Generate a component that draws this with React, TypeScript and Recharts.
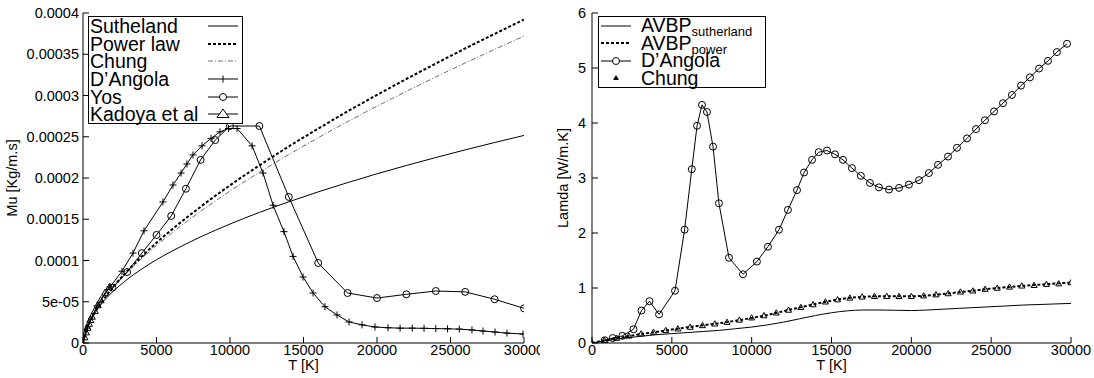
import { LineChart, Line, XAxis, YAxis, Legend } from 'recharts'

const FONT = '"Liberation Sans", Arial, Helvetica, sans-serif'

// ---- left panel: viscosity ----
const muT = [0, 250, 500, 1000, 1500, 2000, 3000, 4000, 5000, 6000, 8000, 10000, 12000, 14000, 16000, 18000, 20000, 22000, 24000, 26000, 28000, 30000]
const sutherlandMu = [0, 1.6e-5, 2.67e-5, 4.15e-5, 5.26e-5, 6.18e-5, 7.7e-5, 8.97e-5, 1.009e-4, 1.109e-4, 1.286e-4, 1.442e-4, 1.583e-4, 1.711e-4, 1.832e-4, 1.944e-4, 2.051e-4, 2.152e-4, 2.248e-4, 2.341e-4, 2.43e-4, 2.516e-4]
const powerLawMu = [0, 1.71e-5, 2.69e-5, 4.24e-5, 5.53e-5, 6.67e-5, 8.7e-5, 1.05e-4, 1.215e-4, 1.368e-4, 1.651e-4, 1.911e-4, 2.153e-4, 2.382e-4, 2.598e-4, 2.807e-4, 3.007e-4, 3.2e-4, 3.387e-4, 3.57e-4, 3.747e-4, 3.92e-4]
const chungMu = [0, 1.74e-5, 2.71e-5, 4.22e-5, 5.47e-5, 6.57e-5, 8.52e-5, 1.025e-4, 1.181e-4, 1.328e-4, 1.596e-4, 1.841e-4, 2.069e-4, 2.284e-4, 2.488e-4, 2.683e-4, 2.87e-4, 3.05e-4, 3.225e-4, 3.395e-4, 3.559e-4, 3.72e-4]

const dAngolaMuT = [0, 300, 950, 1840, 2650, 3400, 4150, 5440, 6120, 6670, 7070, 7480, 8100, 8710, 9320, 9900, 10480, 11500, 12250, 12930, 13670, 14290, 14970, 15650, 16460, 17280, 18100, 18980, 19860, 20750, 21570, 22400, 23200, 24000, 24800, 25600, 26460, 27210, 28030, 28840, 29930]
const dAngolaMu = [0, 1.8e-5, 4.5e-5, 6.8e-5, 8.7e-5, 1.09e-4, 1.36e-4, 1.71e-4, 1.915e-4, 2.06e-4, 2.17e-4, 2.28e-4, 2.39e-4, 2.48e-4, 2.56e-4, 2.6e-4, 2.6e-4, 2.39e-4, 2.06e-4, 1.67e-4, 1.35e-4, 1.05e-4, 8.0e-5, 6.06e-5, 4.4e-5, 3.4e-5, 2.55e-5, 2.2e-5, 1.94e-5, 1.85e-5, 1.8e-5, 1.8e-5, 1.78e-5, 1.75e-5, 1.72e-5, 1.68e-5, 1.58e-5, 1.45e-5, 1.33e-5, 1.2e-5, 1.09e-5]

const yosT = [2000, 3000, 4000, 5000, 6000, 7000, 8000, 9000, 10000, 12000, 14000, 16000, 18000, 20000, 22000, 24000, 26000, 28000, 30000]
const yosMu = [6.7e-5, 8.6e-5, 1.09e-4, 1.31e-4, 1.54e-4, 1.87e-4, 2.22e-4, 2.46e-4, 2.63e-4, 2.63e-4, 1.77e-4, 9.7e-5, 6.06e-5, 5.45e-5, 5.9e-5, 6.3e-5, 6.2e-5, 5.3e-5, 4.2e-5]

const kadoyaT = [100, 200, 300, 400, 500, 600, 800, 1000, 1200, 1500, 1800]
const kadoyaMu = [7e-6, 1.3e-5, 1.85e-5, 2.35e-5, 2.8e-5, 3.2e-5, 3.9e-5, 4.6e-5, 5.2e-5, 6.1e-5, 6.8e-5]

const tTicks = [0, 5000, 10000, 15000, 20000, 25000, 30000]
const muTicks = [0, 5e-5, 1e-4, 1.5e-4, 2e-4, 2.5e-4, 3e-4, 3.5e-4, 4e-4]
const muTickLabels = ['0', '5e-05', '0.0001', '0.00015', '0.0002', '0.00025', '0.0003', '0.00035', '0.0004']

// ---- right panel: conductivity ----
const avbpT = [0, 1000, 2000, 3000, 4000, 5000, 6000, 7000, 8000, 9000, 10000, 11000, 12000, 13000, 14000, 15000, 16000, 17000, 18000, 19000, 20000, 21000, 22000, 23000, 24000, 25000, 26000, 27000, 28000, 29000, 30000]
const avbpSutherland = [0, 0.05, 0.09, 0.12, 0.15, 0.17, 0.19, 0.21, 0.23, 0.26, 0.29, 0.33, 0.38, 0.44, 0.5, 0.55, 0.585, 0.6, 0.6, 0.595, 0.59, 0.6, 0.615, 0.63, 0.645, 0.66, 0.675, 0.69, 0.7, 0.71, 0.72]
const avbpPower = [0, 0.06, 0.11, 0.16, 0.2, 0.245, 0.285, 0.325, 0.36, 0.405, 0.455, 0.51, 0.58, 0.645, 0.71, 0.77, 0.815, 0.84, 0.85, 0.85, 0.85, 0.865, 0.89, 0.925, 0.955, 0.99, 1.015, 1.04, 1.06, 1.08, 1.1]

const dAngolaLamT = [800, 1300, 1900, 2600, 3100, 3600, 4200, 5200, 5800, 6250, 6580, 6890, 7200, 7580, 7950, 8580, 9460, 10330, 11020, 11710, 12270, 12840, 13280, 13780, 14200, 14720, 15220, 15720, 16280, 16840, 17410, 17970, 18600, 19230, 19850, 20480, 21100, 21670, 22300, 22860, 23490, 24050, 24610, 25180, 25740, 26300, 26870, 27430, 28000, 28560, 29120, 29750]
const dAngolaLam = [0.05, 0.09, 0.13, 0.25, 0.59, 0.76, 0.52, 0.95, 2.06, 3.16, 3.95, 4.33, 4.2, 3.57, 2.54, 1.55, 1.25, 1.48, 1.75, 2.06, 2.42, 2.78, 3.1, 3.33, 3.47, 3.5, 3.43, 3.33, 3.18, 3.04, 2.91, 2.83, 2.79, 2.82, 2.88, 2.96, 3.09, 3.24, 3.39, 3.55, 3.72, 3.89, 4.05, 4.21, 4.36, 4.51, 4.68, 4.83, 4.99, 5.13, 5.29, 5.44]

const chungLamT = [0, 770, 1540, 2310, 3080, 3850, 4620, 5380, 6150, 6920, 7690, 8460, 9230, 10000, 10770, 11540, 12310, 13080, 13850, 14620, 15380, 16150, 16920, 17690, 18460, 19230, 20000, 20770, 21540, 22310, 23080, 23850, 24620, 25380, 26150, 26920, 27690, 28460, 29230, 30000]
const chungLam = [0, 0.05, 0.09, 0.13, 0.17, 0.2, 0.23, 0.26, 0.29, 0.32, 0.35, 0.38, 0.42, 0.46, 0.5, 0.55, 0.6, 0.65, 0.7, 0.75, 0.79, 0.82, 0.84, 0.85, 0.85, 0.85, 0.85, 0.86, 0.88, 0.9, 0.93, 0.95, 0.98, 1.0, 1.02, 1.04, 1.05, 1.07, 1.08, 1.1]

const lamTicks = [0, 1, 2, 3, 4, 5, 6]

type Pt = { x: number; y: number }
const zip = (xs: number[], ys: number[]): Pt[] => xs.map((x, i) => ({ x, y: ys[i] }))

const tickStyle = { fill: '#000', fontSize: 14.5, fontFamily: FONT }
const noLabel = () => <g />

function plusDot(props: any) {
  const { cx, cy, index } = props
  if (cx == null || cy == null) return <g key={index} />
  return <path key={index} d={`M${cx - 3.5},${cy}h7M${cx},${cy - 3.5}v7`} stroke="#000" strokeWidth={1} fill="none" />
}

function circleDot(props: any) {
  const { cx, cy, index } = props
  if (cx == null || cy == null) return <g key={index} />
  return <circle key={index} cx={cx} cy={cy} r={3.5} stroke="#000" strokeWidth={1} fill="none" />
}

const triDot = (s: number) => (props: any) => {
  const { cx, cy, index } = props
  if (cx == null || cy == null) return <g key={index} />
  return <path key={index} d={`M${cx},${cy - s}L${cx + s},${cy + s * 0.75}L${cx - s},${cy + s * 0.75}Z`} stroke="#000" strokeWidth={1} fill="none" />
}

function Sample({ kind }: { kind: string }) {
  return (
    <svg width={34} height={18} style={{ display: 'block' }}>
      {kind === 'solid' && <line x1={2} y1={9} x2={32} y2={9} stroke="#000" />}
      {kind === 'dash' && <line x1={2} y1={9} x2={32} y2={9} stroke="#000" strokeWidth={2} strokeDasharray="3 2" />}
      {kind === 'dashdot' && <line x1={2} y1={9} x2={32} y2={9} stroke="#555" strokeWidth={0.8} strokeDasharray="5 2 1 2" />}
      {kind === 'plus' && (
        <g stroke="#000">
          <line x1={2} y1={9} x2={32} y2={9} />
          <path d="M17,5.5v7" />
        </g>
      )}
      {kind === 'circle' && (
        <g stroke="#000" fill="none">
          <line x1={2} y1={9} x2={32} y2={9} />
          <circle cx={17} cy={9} r={3.5} fill="#fff" />
        </g>
      )}
      {kind === 'tri' && (
        <g stroke="#000" fill="none">
          <line x1={2} y1={9} x2={32} y2={9} />
          <path d="M17,4L23,12.5L11,12.5Z" fill="#fff" />
        </g>
      )}
      {kind === 'smalltri' && <path d="M17,6L20,11L14,11Z" fill="#000" />}
    </svg>
  )
}

function MuLegend() {
  const rows = [
    ['Sutheland', 'solid'],
    ['Power law', 'dash'],
    ['Chung', 'dashdot'],
    ['D\u2019Angola', 'plus'],
    ['Yos', 'circle'],
    ['Kadoya et al', 'tri'],
  ]
  return (
    <div style={{ border: '1px solid #000', background: '#fff', boxSizing: 'border-box', width: 155, height: 108, fontFamily: FONT, fontSize: 19.5, color: '#000' }}>
      {rows.map(([label, kind]) => (
        <div key={label} style={{ display: 'flex', justifyContent: 'space-between', alignItems: 'center', height: 17.7, lineHeight: '18px', paddingLeft: 1, paddingRight: 2 }}>
          <span>{label}</span>
          <Sample kind={kind} />
        </div>
      ))}
    </div>
  )
}

function LamLegend() {
  const sub = { fontSize: 13, position: 'relative' as const, top: 4, lineHeight: '13px' }
  const rows: [any, string][] = [
    [<span>AVBP<span style={sub}>sutherland</span></span>, 'solid'],
    [<span>AVBP<span style={sub}>power</span></span>, 'dash'],
    ['D\u2019Angola', 'circle'],
    ['Chung', 'smalltri'],
  ]
  return (
    <div style={{ border: '1px solid #000', background: '#fff', boxSizing: 'border-box', width: 168, height: 72, fontFamily: FONT, fontSize: 19.5, color: '#000' }}>
      {rows.map(([label, kind], i) => (
        <div key={i} style={{ display: 'flex', alignItems: 'center', height: 17.5, lineHeight: '17px' }}>
          <Sample kind={kind} />
          <span style={{ marginLeft: 8 }}>{label}</span>
        </div>
      ))}
    </div>
  )
}

function MuChart() {
  return (
    <LineChart width={540} height={378} margin={{ top: 13, right: 16, bottom: 0, left: 0 }}>
      <XAxis type="number" dataKey="x" domain={[0, 30000]} ticks={tTicks} interval={0} allowDataOverflow
        stroke="#000" tickSize={-6} tickMargin={8} height={35} tick={tickStyle}
        label={{ value: 'T [K]', position: 'insideBottom', offset: 8, fill: '#000', fontSize: 14.5, fontFamily: FONT }} />
      <XAxis xAxisId="top" orientation="top" type="number" dataKey="x" domain={[0, 30000]} ticks={tTicks} interval={0} allowDataOverflow
        stroke="#000" tickSize={-6} height={0} tick={noLabel} />
      <YAxis type="number" domain={[0, 4e-4]} ticks={muTicks} interval={0} allowDataOverflow width={83}
        stroke="#000" tickSize={-6} tickMargin={10} tick={tickStyle}
        tickFormatter={(v: number, i: number) => muTickLabels[i] ?? String(v)}
        label={{ value: 'Mu [Kg/m.s]', angle: -90, position: 'insideLeft', offset: 12, fill: '#000', fontSize: 14.5, fontFamily: FONT, style: { textAnchor: 'middle' } }} />
      <YAxis yAxisId="right" orientation="right" type="number" domain={[0, 4e-4]} ticks={muTicks} interval={0} allowDataOverflow width={0}
        stroke="#000" tickSize={-6} tick={noLabel} />
      <Legend layout="horizontal" verticalAlign="middle" align="center" content={() => <MuLegend />}
        wrapperStyle={{ left: 88, top: 16, width: 155, height: 108 }} />
      <Line data={zip(muT, sutherlandMu)} dataKey="y" type="monotone" stroke="#000" strokeWidth={1} dot={false} isAnimationActive={false} legendType="none" />
      <Line data={zip(muT, powerLawMu)} dataKey="y" type="monotone" stroke="#000" strokeWidth={2} strokeDasharray="3 2" dot={false} isAnimationActive={false} legendType="none" />
      <Line data={zip(muT, chungMu)} dataKey="y" type="monotone" stroke="#444" strokeWidth={0.8} strokeDasharray="5 2 1 2" dot={false} isAnimationActive={false} legendType="none" />
      <Line data={zip(dAngolaMuT, dAngolaMu)} dataKey="y" type="linear" stroke="#000" strokeWidth={1} dot={plusDot} isAnimationActive={false} legendType="none" />
      <Line data={zip(yosT, yosMu)} dataKey="y" type="linear" stroke="#000" strokeWidth={1} dot={circleDot} isAnimationActive={false} legendType="none" />
      <Line data={zip(kadoyaT, kadoyaMu)} dataKey="y" type="linear" stroke="#000" strokeWidth={1} dot={triDot(3.5)} isAnimationActive={false} legendType="none" />
    </LineChart>
  )
}

function LamChart() {
  return (
    <LineChart width={548} height={378} margin={{ top: 13, right: 23, bottom: 0, left: 0 }}>
      <XAxis type="number" dataKey="x" domain={[0, 30000]} ticks={tTicks} interval={0} allowDataOverflow
        stroke="#000" tickSize={-6} tickMargin={8} height={35} tick={tickStyle}
        label={{ value: 'T [K]', position: 'insideBottom', offset: 8, fill: '#000', fontSize: 14.5, fontFamily: FONT }} />
      <XAxis xAxisId="top" orientation="top" type="number" dataKey="x" domain={[0, 30000]} ticks={tTicks} interval={0} allowDataOverflow
        stroke="#000" tickSize={-6} height={0} tick={noLabel} />
      <YAxis type="number" domain={[0, 6]} ticks={lamTicks} interval={0} allowDataOverflow width={46}
        stroke="#000" tickSize={-6} tickMargin={12} tick={tickStyle}
        label={{ value: 'Lamda [W/m.K]', angle: -90, position: 'insideLeft', offset: 17, fill: '#000', fontSize: 14.5, fontFamily: FONT, style: { textAnchor: 'middle' } }} />
      <YAxis yAxisId="right" orientation="right" type="number" domain={[0, 6]} ticks={lamTicks} interval={0} allowDataOverflow width={0}
        stroke="#000" tickSize={-6} tick={noLabel} />
      <Legend layout="horizontal" verticalAlign="middle" align="center" content={() => <LamLegend />}
        wrapperStyle={{ left: 52, top: 16, width: 168, height: 72 }} />
      <Line data={zip(avbpT, avbpSutherland)} dataKey="y" type="monotone" stroke="#000" strokeWidth={1} dot={false} isAnimationActive={false} legendType="none" />
      <Line data={zip(avbpT, avbpPower)} dataKey="y" type="monotone" stroke="#000" strokeWidth={2} strokeDasharray="3 2" dot={false} isAnimationActive={false} legendType="none" />
      <Line data={zip(dAngolaLamT, dAngolaLam)} dataKey="y" type="linear" stroke="#000" strokeWidth={1} dot={circleDot} isAnimationActive={false} legendType="none" />
      <Line data={zip(chungLamT, chungLam)} dataKey="y" type="linear" stroke="none" dot={triDot(3)} isAnimationActive={false} legendType="none" />
    </LineChart>
  )
}

export default function App() {
  return (
    <div style={{ position: 'absolute', left: 0, top: 0, width: 1094, height: 378, background: '#fff', overflow: 'hidden' }}>
      <div style={{ position: 'absolute', left: 0, top: 0 }}>
        <MuChart />
      </div>
      <div style={{ position: 'absolute', left: 546, top: 0 }}>
        <LamChart />
      </div>
    </div>
  )
}
